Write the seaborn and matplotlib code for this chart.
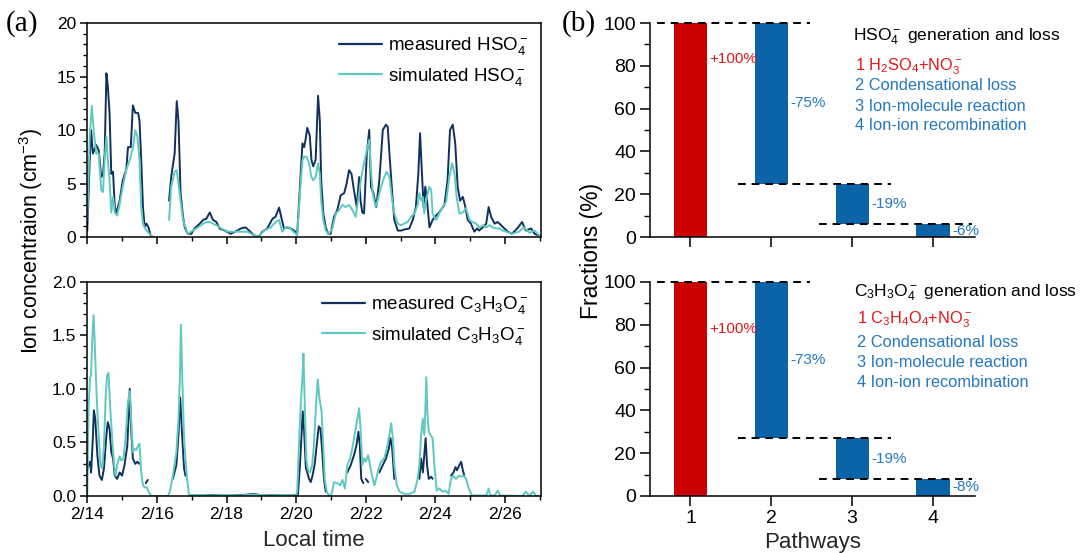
import numpy as np
import matplotlib
matplotlib.use("Agg")
import matplotlib.pyplot as plt
from matplotlib.lines import Line2D
from matplotlib.ticker import MultipleLocator, FixedLocator, FixedFormatter, FormatStrFormatter
import seaborn as sns

nan = np.nan

# ---------------- (a) time series, time in days since 2/14 00:00 ----------------
date_labels = ["2/14", "2/16", "2/18", "2/20", "2/22", "2/24", "2/26"]

hso4_meas_t = [
    0.00, 0.07, 0.11, 0.16, 0.26, 0.33, 0.40, 0.45, 0.50, 0.55,
    0.59, 0.64, 0.69, 0.74, 0.79, 0.83, 0.93, 1.02, 1.12, 1.17,
    1.25, 1.31, 1.38, 1.46, 1.50, 1.55, 1.60, 1.65, 1.70, 1.76,
    1.82, 2.00, 2.35, 2.41, 2.51, 2.57, 2.62, 2.68, 2.75, 2.80,
    2.89, 2.99, 3.08, 3.23, 3.33, 3.42, 3.52, 3.61, 3.71, 3.80,
    3.95, 4.12, 4.31, 4.41, 4.55, 4.65, 4.79, 4.93, 5.03, 5.17,
    5.32, 5.41, 5.51, 5.57, 5.65, 5.75, 5.84, 5.94, 6.03, 6.11,
    6.18, 6.23, 6.27, 6.32, 6.39, 6.44, 6.49, 6.56, 6.63, 6.68,
    6.72, 6.78, 6.85, 6.92, 6.99, 7.09, 7.18, 7.28, 7.38, 7.45,
    7.52, 7.59, 7.66, 7.74, 7.81, 7.85, 7.90, 7.95, 8.03, 8.10,
    8.15, 8.22, 8.30, 8.39, 8.49, 8.58, 8.63, 8.68, 8.76, 8.82,
    8.92, 9.01, 9.11, 9.25, 9.35, 9.44, 9.51, 9.56, 9.61, 9.66,
    9.71, 9.76, 9.83, 9.92, 10.02, 10.11, 10.26, 10.35, 10.42, 10.50,
    10.57, 10.64, 10.71, 10.79, 10.86, 10.93, 11.02, 11.12, 11.20, 11.26,
    11.36, 11.46, 11.53, 11.60, 11.70, 11.79, 11.89, 11.98, 12.08, 12.20,
    12.35, 12.49, 12.60, 12.75, 12.85, 13.00,
]
hso4_measured = [
    0.6, 7.2, 10.0, 7.8, 8.6, 8.1, 5.6, 5.8, 7.8, 15.3,
    14.1, 11.6, 5.9, 6.1, 2.8, 2.2, 3.4, 5.3, 6.3, 8.4,
    8.4, 12.3, 11.6, 11.6, 10.9, 7.2, 2.8, 0.9, 1.25, 0.9,
    0.15, nan, 3.4, 5.6, 7.8, 12.7, 10.9, 4.1, 1.9, 0.9,
    0.3, 0.3, 0.8, 1.25, 1.6, 1.7, 2.3, 1.6, 1.4, 0.8,
    0.6, 0.3, 0.6, 0.8, 0.9, 0.6, 0.15, 0.05, 0.5, 0.8,
    1.7, 1.9, 2.75, 1.9, 0.8, 0.9, 0.8, 0.6, 0.3, 4.7,
    8.75, 8.4, 9.1, 10.2, 9.5, 7.2, 6.6, 7.2, 13.2, 10.9,
    5.3, 2.2, 0.9, 0.3, 0.3, 1.9, 2.5, 3.9, 4.1, 5.0,
    6.25, 5.9, 4.4, 2.8, 5.6, 3.4, 2.3, 2.2, 7.8, 10.0,
    4.7, 4.1, 2.8, 5.3, 10.0, 10.5, 10.3, 7.8, 4.1, 1.6,
    0.6, 0.6, 0.7, 0.8, 1.6, 2.8, 5.9, 9.7, 6.25, 2.8,
    4.7, 3.4, 0.9, 1.6, 2.0, 2.3, 3.0, 5.3, 10.0, 10.5,
    8.75, 4.7, 3.4, 3.75, 2.8, 1.6, 1.25, 0.5, 0.8, 0.6,
    0.9, 1.25, 2.8, 1.9, 1.25, 1.4, 1.1, 0.8, 0.5, 0.3,
    0.8, 1.4, 0.6, 0.8, 0.3, 0.1,
]

hso4_sim_t = [
    0.00, 0.07, 0.13, 0.19, 0.26, 0.33, 0.40, 0.45, 0.50, 0.55,
    0.59, 0.64, 0.69, 0.74, 0.79, 0.86, 0.93, 1.02, 1.12, 1.22,
    1.31, 1.38, 1.44, 1.50, 1.55, 1.60, 1.70, 1.79, 1.89, 2.00,
    2.35, 2.41, 2.51, 2.57, 2.62, 2.68, 2.75, 2.80, 2.89, 3.03,
    3.18, 3.33, 3.42, 3.52, 3.61, 3.71, 3.85, 4.04, 4.21, 4.41,
    4.60, 4.79, 4.93, 5.08, 5.27, 5.41, 5.51, 5.60, 5.70, 5.79,
    5.89, 6.03, 6.11, 6.18, 6.23, 6.30, 6.37, 6.44, 6.49, 6.56,
    6.63, 6.68, 6.72, 6.78, 6.85, 6.94, 7.04, 7.14, 7.23, 7.33,
    7.42, 7.52, 7.62, 7.71, 7.81, 7.87, 7.95, 8.03, 8.10, 8.15,
    8.20, 8.28, 8.34, 8.44, 8.53, 8.60, 8.68, 8.76, 8.82, 8.92,
    9.01, 9.11, 9.20, 9.30, 9.40, 9.49, 9.54, 9.59, 9.64, 9.68,
    9.73, 9.78, 9.83, 9.88, 9.92, 10.02, 10.11, 10.21, 10.31, 10.40,
    10.48, 10.55, 10.61, 10.69, 10.79, 10.88, 10.98, 11.07, 11.17, 11.27,
    11.36, 11.46, 11.55, 11.65, 11.74, 11.84, 11.93, 12.03, 12.20, 12.40,
    12.55, 12.70, 12.85, 13.00,
]
hso4_simulated = [
    1.6, 9.4, 12.25, 9.7, 7.8, 7.8, 4.4, 4.2, 7.2, 9.4,
    7.2, 5.3, 2.3, 3.75, 2.3, 2.0, 3.1, 4.7, 6.3, 7.2,
    8.3, 10.0, 9.4, 7.2, 2.8, 1.25, 0.6, 0.3, 0.0, nan,
    1.6, 4.7, 6.1, 6.25, 5.0, 3.4, 1.6, 1.1, 0.3, 0.6,
    0.9, 1.25, 1.4, 1.4, 1.25, 1.1, 0.8, 0.5, 0.5, 0.5,
    0.5, 0.15, 0.05, 0.6, 0.9, 1.4, 1.6, 0.5, 0.9, 0.9,
    0.6, 0.15, 4.1, 7.2, 7.5, 7.5, 6.9, 5.6, 5.3, 5.6,
    6.9, 5.9, 3.4, 1.6, 0.6, 0.3, 0.8, 2.2, 2.5, 3.0,
    2.8, 3.0, 2.5, 1.9, 4.1, 5.6, 6.9, 8.1, 9.1, 6.25,
    4.1, 2.8, 3.4, 4.7, 5.6, 6.1, 5.6, 3.4, 2.2, 1.25,
    1.1, 1.25, 1.4, 1.9, 2.2, 3.0, 4.1, 3.4, 3.75, 2.2,
    3.4, 4.1, 4.7, 4.4, 2.2, 1.6, 2.2, 2.8, 3.3, 5.6,
    6.9, 5.9, 3.75, 2.2, 2.3, 2.7, 1.6, 1.4, 1.25, 0.9,
    1.1, 0.9, 1.1, 0.9, 0.8, 0.8, 0.6, 0.5, 0.3, 0.5,
    0.9, 0.4, 0.6, 0.1,
]

c3_meas_t = [
    0.00, 0.04, 0.08, 0.11, 0.16, 0.19, 0.23, 0.29, 0.35, 0.42,
    0.48, 0.55, 0.59, 0.64, 0.69, 0.74, 0.79, 0.86, 0.93, 1.00,
    1.07, 1.15, 1.22, 1.26, 1.31, 1.38, 1.44, 1.50, 1.60, 1.68,
    1.74, 2.00, 2.46, 2.56, 2.62, 2.67, 2.72, 2.78, 2.82, 2.90,
    3.00, 3.50, 4.00, 4.50, 4.80, 5.00, 5.50, 5.90, 6.05, 6.11,
    6.15, 6.19, 6.23, 6.28, 6.32, 6.37, 6.42, 6.47, 6.53, 6.59,
    6.65, 6.70, 6.75, 6.80, 6.85, 7.00, 7.47, 7.57, 7.66, 7.73,
    7.79, 7.83, 7.87, 7.93, 7.96, 8.00, 8.07, 8.20, 8.39, 8.49,
    8.58, 8.66, 8.71, 8.76, 8.82, 8.90, 9.54, 9.59, 9.64, 9.68,
    9.72, 9.76, 9.81, 9.88, 9.92, 10.00, 10.45, 10.52, 10.58, 10.62,
    10.69, 10.74, 10.79, 10.83,
]
c3_measured = [
    0.25, 0.29, 0.32, 0.22, 0.54, 0.80, 0.72, 0.38, 0.19, 0.15,
    0.26, 0.57, 0.69, 0.63, 0.41, 0.35, 0.19, 0.16, 0.22, 0.19,
    0.29, 0.47, 1.00, 0.63, 0.35, 0.30, 0.32, 0.30, nan, 0.12,
    0.15, nan, 0.16, 0.29, 0.57, 0.92, 0.60, 0.26, 0.19, nan,
    0.005, 0.01, 0.005, 0.01, 0.02, 0.005, 0.01, 0.005, 0.01, 0.29,
    0.54, 0.79, 0.60, 0.26, 0.22, 0.16, 0.13, 0.19, 0.29, 0.47,
    0.65, 0.63, 0.41, 0.16, 0.04, nan, 0.22, 0.29, 0.38, 0.47,
    0.60, 0.47, 0.16, 0.12, nan, 0.16, 0.13, nan, 0.22, 0.29,
    0.35, 0.44, 0.54, 0.44, 0.16, nan, 0.16, 0.35, 0.22, 0.38,
    0.54, 0.29, 0.16, 0.18, 0.16, nan, 0.19, 0.22, 0.27, 0.24,
    0.29, 0.32, 0.24, 0.19,
]

c3_sim_t = [
    0.00, 0.04, 0.08, 0.11, 0.14, 0.18, 0.21, 0.25, 0.29, 0.33,
    0.38, 0.43, 0.48, 0.53, 0.57, 0.61, 0.66, 0.71, 0.77, 0.81,
    0.86, 0.93, 0.98, 1.04, 1.10, 1.17, 1.22, 1.26, 1.31, 1.36,
    1.41, 1.46, 1.50, 1.55, 1.60, 1.65, 1.71, 1.76, 1.84, 2.32,
    2.37, 2.46, 2.56, 2.62, 2.66, 2.69, 2.73, 2.78, 2.82, 2.87,
    2.92, 3.30, 3.60, 4.00, 4.40, 4.80, 5.20, 5.60, 6.00, 6.03,
    6.08, 6.13, 6.18, 6.21, 6.25, 6.29, 6.34, 6.40, 6.46, 6.51,
    6.57, 6.62, 6.67, 6.73, 6.77, 6.82, 6.88, 6.94, 7.01, 7.09,
    7.18, 7.26, 7.33, 7.40, 7.47, 7.55, 7.61, 7.68, 7.76, 7.81,
    7.85, 7.90, 7.95, 8.00, 8.07, 8.12, 8.20, 8.25, 8.30, 8.37,
    8.44, 8.53, 8.60, 8.68, 8.73, 8.78, 8.82, 8.89, 8.97, 9.11,
    9.25, 9.40, 9.49, 9.54, 9.59, 9.64, 9.68, 9.71, 9.74, 9.77,
    9.81, 9.86, 9.92, 9.97, 10.04, 10.11, 10.21, 10.29, 10.38, 10.45,
    10.52, 10.59, 10.67, 10.74, 10.81, 10.88, 10.96, 11.05, 11.46, 11.53,
    11.58, 11.70, 11.79, 11.86, 12.50, 12.60, 12.70, 12.80, 12.90, 13.00,
]
c3_simulated = [
    0.0, 0.85, 1.10, 1.13, 1.44, 1.69, 1.48, 1.10, 0.79, 0.57,
    0.29, 0.26, 0.47, 0.94, 1.13, 1.15, 0.82, 0.57, 0.29, 0.19,
    0.29, 0.37, 0.33, 0.35, 0.54, 0.88, 0.98, 0.72, 0.41, 0.44,
    0.43, 0.47, 0.49, 0.22, 0.10, 0.08, 0.08, 0.04, 0.0, 0.0,
    0.04, 0.19, 0.41, 0.72, 1.10, 1.60, 1.10, 0.54, 0.35, 0.16,
    0.01, 0.01, 0.005, 0.01, 0.005, 0.015, 0.005, 0.01, 0.005, 0.04,
    0.47, 0.85, 1.10, 1.33, 0.85, 0.35, 0.24, 0.22, 0.29, 0.47,
    0.85, 1.09, 0.91, 0.79, 0.54, 0.16, 0.04, 0.005, 0.01, 0.13,
    0.12, 0.10, 0.15, 0.07, 0.29, 0.35, 0.44, 0.57, 0.72, 0.82,
    0.63, 0.29, 0.35, 0.32, 0.38, 0.29, 0.16, 0.10, 0.16, 0.26,
    0.32, 0.35, 0.44, 0.57, 0.68, 0.54, 0.29, 0.10, 0.04, 0.02,
    0.02, 0.04, 0.16, 0.29, 0.57, 0.72, 0.57, 0.79, 1.11, 0.79,
    0.60, 0.57, 0.54, 0.29, 0.05, 0.07, 0.04, 0.05, 0.02, 0.16,
    0.19, 0.16, 0.19, 0.18, 0.19, 0.16, 0.07, 0.005, 0.005, 0.07,
    0.005, 0.005, 0.05, 0.005, 0.0, 0.04, 0.0, 0.04, 0.0, 0.0,
]

# ---------------- (b) pathway budgets (%) ----------------
pathways = [1, 2, 3, 4]
hso4_budget = [100, -75, -19, -6]
c3_budget = [100, -73, -19, -8]
loss_items = ["2 Condensational loss", "3 Ion-molecule reaction",
              "4 Ion-ion recombination"]

# ---------------- style ----------------
MEAS_COLOR = "#10305e"
SIM_COLOR = "#5ec9bf"
RED = "#cc0000"
BLUE = "#0b64a8"
RED_TXT = "#e0191b"
BLUE_TXT = "#2577c0"

sns.set_theme(style="ticks")
plt.rcParams.update({
    "font.family": ["Liberation Sans", "DejaVu Sans"],
    "mathtext.fontset": "custom",
    "mathtext.rm": "Liberation Sans",
    "mathtext.it": "Liberation Sans:italic",
    "mathtext.bf": "Liberation Sans:bold",
    "axes.linewidth": 1.1,
    "axes.edgecolor": "black",
    "xtick.color": "black",
    "ytick.color": "black",
    "xtick.major.width": 1.1,
    "ytick.major.width": 1.1,
    "xtick.minor.width": 1.0,
    "ytick.minor.width": 1.0,
    "text.color": "black",
})

fig = plt.figure(figsize=(10.8, 5.53), dpi=100)
fig.patch.set_facecolor("white")

ax_top = fig.add_axes([0.0808, 0.5714, 0.420, 0.387])
ax_bot = fig.add_axes([0.0808, 0.1031, 0.420, 0.387])
bx_top = fig.add_axes([0.6019, 0.5714, 0.3009, 0.387])
bx_bot = fig.add_axes([0.6019, 0.1031, 0.3009, 0.387])


def draw_series(ax, t, v, color):
    t = np.asarray(t, float)
    v = np.asarray(v, float)
    gaps = np.isnan(v)
    seg = np.cumsum(gaps)
    for s in np.unique(seg[~gaps]):
        m = (seg == s) & ~gaps
        sns.lineplot(x=t[m], y=v[m], ax=ax, color=color, lw=1.4,
                     estimator=None, sort=False, legend=False)


def style_time_axis(ax, ymax, ymajor, yminor, show_dates):
    ax.set_xlim(0, 13.03)
    ax.set_ylim(0, ymax)
    ax.xaxis.set_major_locator(FixedLocator([0, 2, 4, 6, 8, 10, 12]))
    ax.xaxis.set_major_formatter(FixedFormatter(date_labels))
    ax.xaxis.set_minor_locator(MultipleLocator(1))
    ax.yaxis.set_major_locator(MultipleLocator(ymajor))
    ax.yaxis.set_minor_locator(MultipleLocator(yminor))
    ax.tick_params(which="both", direction="out", top=False, right=False)
    ax.tick_params(which="major", length=5, labelsize=12.5, pad=3)
    ax.tick_params(which="minor", length=3)
    ax.tick_params(axis="x", labelbottom=show_dates)
    for sp in ax.spines.values():
        sp.set_visible(True)
        sp.set_linewidth(1.1)
    ax.set_xlabel("")
    ax.set_ylabel("")


def add_legend(ax, labels):
    ax.legend(
        handles=[Line2D([], [], color=MEAS_COLOR, lw=1.6),
                 Line2D([], [], color=SIM_COLOR, lw=1.6)],
        labels=labels, loc="upper right", frameon=False, fontsize=13.5,
        handlelength=2.3, handletextpad=0.3, labelspacing=0.45,
        borderaxespad=0.25,
    )


# panel (a) upper: HSO4-
draw_series(ax_top, hso4_meas_t, hso4_measured, MEAS_COLOR)
draw_series(ax_top, hso4_sim_t, hso4_simulated, SIM_COLOR)
style_time_axis(ax_top, 20, 5, 1, False)
add_legend(ax_top, [r"measured $\mathregular{HSO_4^-}$",
                    r"simulated $\mathregular{HSO_4^-}$"])

# panel (a) lower: C3H3O4-
draw_series(ax_bot, c3_meas_t, c3_measured, MEAS_COLOR)
draw_series(ax_bot, c3_sim_t, c3_simulated, SIM_COLOR)
style_time_axis(ax_bot, 2.0, 0.5, 0.1, True)
ax_bot.yaxis.set_major_formatter(FormatStrFormatter("%.1f"))
ax_bot.set_xlabel("Local time", fontsize=16, labelpad=6)
add_legend(ax_bot, [r"measured $\mathregular{C_3H_3O_4^-}$",
                    r"simulated $\mathregular{C_3H_3O_4^-}$"])

fig.text(0.029, 0.565, r"Ion concentraion (cm$\mathregular{^{-3}}$)",
         rotation=90, ha="center", va="center", fontsize=15.5)


# ---------------- panel (b) waterfall ----------------
def draw_budget(ax, budget, title, title_y, first_item, item_ys, text_x,
                gain_label_y):
    budget = np.asarray(budget, float)
    ends = np.cumsum(budget)
    starts = ends - budget
    lows = np.minimum(starts, ends)
    heights = np.abs(budget)
    colors = [RED if b > 0 else BLUE for b in budget]
    width = 0.41
    ax.bar(pathways, heights, bottom=lows, width=width, color=colors,
           edgecolor="none", zorder=2)
    # dashed connectors between successive levels
    for i in range(len(pathways) - 1):
        ax.plot([pathways[i] - 0.41, pathways[i + 1] + 0.48], [ends[i], ends[i]],
                color="black", lw=1.4, ls=(0, (4, 3)), zorder=3, clip_on=False)
    # value labels
    for i, b in enumerate(budget):
        y = gain_label_y if b > 0 else (starts[i] + ends[i]) / 2
        ax.text(pathways[i] + width / 2 + 0.03, y, f"{int(b):+d}%",
                color=RED_TXT if b > 0 else BLUE_TXT, fontsize=11,
                ha="left", va="center")
    ax.set_xlim(0.5, 4.52)
    ax.set_ylim(0, 100)
    ax.set_xticks(pathways)
    ax.set_xticklabels([str(p) for p in pathways])
    ax.yaxis.set_major_locator(MultipleLocator(20))
    ax.yaxis.set_minor_locator(MultipleLocator(10))
    ax.tick_params(which="both", direction="out")
    ax.tick_params(which="major", length=7, labelsize=14, pad=3)
    ax.tick_params(which="minor", length=4)
    sns.despine(ax=ax)
    ax.spines["left"].set_linewidth(1.1)
    ax.spines["bottom"].set_linewidth(1.1)
    # description of pathways
    tr = ax.transAxes
    ax.text(text_x - 0.007, title_y, title, transform=tr, fontsize=12.5,
            ha="left", va="center")
    ax.text(text_x, item_ys[0], first_item, transform=tr, fontsize=11.8,
            ha="left", va="center", color=RED_TXT)
    for txt, y in zip(loss_items, item_ys[1:]):
        ax.text(text_x, y, txt, transform=tr, fontsize=11.8,
                ha="left", va="center", color=BLUE_TXT)


draw_budget(bx_top, hso4_budget,
            r"$\mathregular{HSO_4^-}$ generation and loss", 0.937,
            r"1 $\mathregular{H_2SO_4}$+$\mathregular{NO_3^-}$",
            [0.797, 0.706, 0.612, 0.519], 0.632, 83)
bx_top.tick_params(axis="x", labelbottom=False)

draw_budget(bx_bot, c3_budget,
            r"$\mathregular{C_3H_3O_4^-}$ generation and loss", 0.948,
            r"1 $\mathregular{C_3H_4O_4}$+$\mathregular{NO_3^-}$",
            [0.823, 0.717, 0.623, 0.530], 0.636, 78)
bx_bot.set_xlabel("Pathways", fontsize=16, labelpad=4)

fig.text(0.548, 0.546, "Fractions (%)", rotation=90, ha="center", va="center",
         fontsize=16.5)

# panel tags
fig.text(0.005, 0.958, "(a)", family=["Liberation Serif", "DejaVu Serif"],
         fontsize=21, ha="left", va="center")
fig.text(0.520, 0.958, "(b)", family=["Liberation Serif", "DejaVu Serif"],
         fontsize=21, ha="left", va="center")

fig.savefig("out.png", dpi=100, facecolor="white")
